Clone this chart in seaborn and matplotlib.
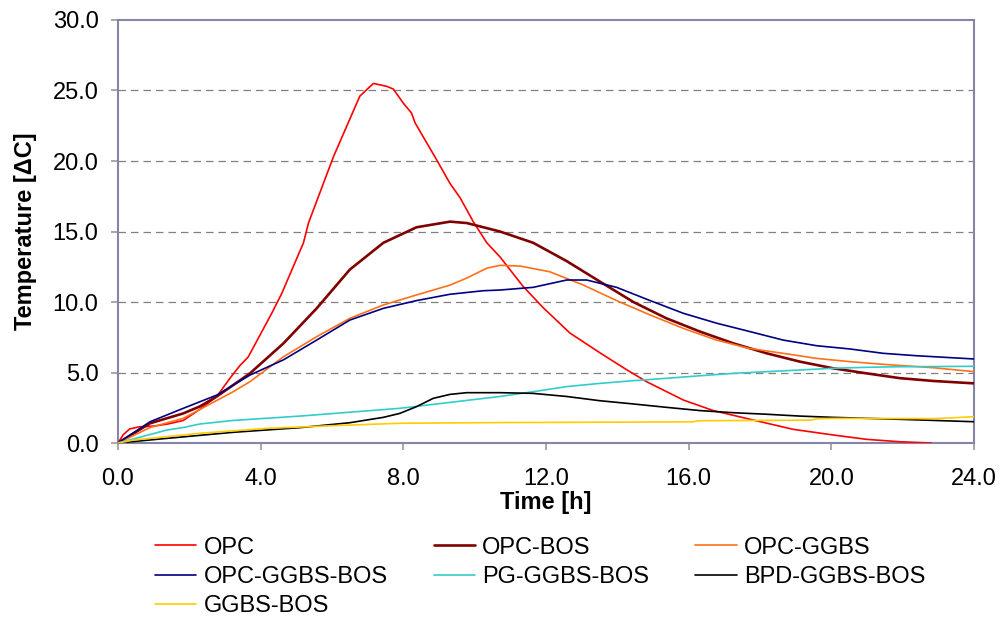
import matplotlib
matplotlib.use("Agg")
import matplotlib.pyplot as plt
import seaborn as sns
import pandas as pd

# ---- data ----
opc_t = [0, 0.15, 0.33, 0.6, 1.0, 1.4, 1.83, 2.3, 2.77, 3.14, 3.42, 3.65, 4.31, 4.59, 5.2, 5.34, 6.04, 6.78,
         7.16, 7.53, 7.72, 8.0, 8.23, 8.33, 8.93, 9.31, 9.59, 9.96, 10.34, 10.71, 11.36, 11.92, 12.67, 13.51,
         14.26, 14.82, 15.85, 16.69, 17.81, 18.93, 20.05, 20.99, 21.92, 22.8]
opc_v = [0, 0.6, 1.0, 1.15, 1.2, 1.35, 1.6, 2.4, 3.3, 4.6, 5.5, 6.1, 9.2, 10.6, 14.2, 15.6, 20.3, 24.6,
         25.5, 25.3, 25.1, 24.1, 23.4, 22.7, 20.1, 18.4, 17.4, 15.7, 14.2, 13.2, 11.1, 9.6, 7.8, 6.4,
         5.2, 4.35, 3.05, 2.3, 1.63, 0.97, 0.57, 0.26, 0.09, 0.0]

opcbos_t = [0, 0.9, 1.83, 2.3, 2.77, 3.7, 4.64, 5.57, 6.5, 7.44, 8.37, 9.31, 9.78, 10.71, 11.64, 12.58,
            13.51, 14.45, 15.38, 16.32, 17.25, 18.19, 19.12, 20.05, 20.99, 21.92, 22.86, 24.0]
opcbos_v = [0, 1.4, 2.1, 2.6, 3.3, 4.94, 7.07, 9.55, 12.3, 14.2, 15.3, 15.7, 15.6, 15.0, 14.2, 12.9,
            11.45, 10.0, 8.84, 7.9, 7.07, 6.36, 5.77, 5.3, 4.94, 4.6, 4.4, 4.23]

opcggbs_t = [0, 0.9, 1.83, 3.23, 3.7, 4.64, 5.57, 6.5, 7.44, 8.37, 9.31, 9.78, 10.34, 10.71, 11.27, 12.1,
             13.05, 13.98, 14.92, 15.85, 16.78, 17.72, 18.65, 19.59, 20.52, 21.46, 22.86, 24.0]
opcggbs_v = [0, 1.1, 1.75, 3.64, 4.35, 6.12, 7.54, 8.84, 9.79, 10.5, 11.2, 11.7, 12.4, 12.6, 12.55, 12.15,
             11.2, 10.1, 9.08, 8.13, 7.3, 6.7, 6.36, 6.0, 5.77, 5.58, 5.34, 5.06]

ogb_t = [0, 0.9, 1.83, 2.77, 3.7, 4.64, 5.57, 6.5, 7.44, 8.37, 9.31, 10.24, 10.71, 11.64, 12.58, 13.14,
         13.98, 14.92, 15.85, 16.78, 17.72, 18.65, 19.59, 20.52, 21.46, 22.39, 24.0]
ogb_v = [0, 1.51, 2.46, 3.4, 4.82, 5.9, 7.3, 8.72, 9.55, 10.1, 10.55, 10.8, 10.85, 11.04, 11.56, 11.56,
         11.04, 10.1, 9.2, 8.5, 7.9, 7.3, 6.9, 6.67, 6.36, 6.19, 5.96]

pg_t = [0, 1.37, 1.83, 2.3, 3.23, 5.1, 7.9, 10.71, 11.64, 12.58, 13.51, 14.45, 15.38, 16.32, 17.25,
        18.19, 19.12, 20.05, 20.99, 21.92, 24.0]
pg_v = [0, 0.92, 1.1, 1.35, 1.6, 1.91, 2.46, 3.3, 3.64, 4.0, 4.23, 4.42, 4.59, 4.77, 4.94,
        5.06, 5.18, 5.3, 5.37, 5.41, 5.44]

bpd_t = [0, 1.37, 3.23, 5.1, 6.5, 7.44, 7.9, 8.37, 8.84, 9.31, 9.78, 10.71, 11.64, 12.58, 13.51, 14.45,
         15.38, 16.32, 17.25, 18.19, 19.12, 20.05, 20.99, 21.92, 24.0]
bpd_v = [0, 0.33, 0.76, 1.09, 1.44, 1.82, 2.1, 2.58, 3.17, 3.45, 3.57, 3.57, 3.52, 3.3, 3.0, 2.77,
         2.53, 2.3, 2.15, 2.04, 1.91, 1.82, 1.75, 1.68, 1.51]

gb_t = [0, 0.43, 2.3, 4.17, 6.04, 7.9, 10.71, 16.1, 16.3, 19.4, 19.6, 20.05, 22.86, 23.5, 24.0]
gb_v = [0, 0.21, 0.69, 1.04, 1.23, 1.4, 1.45, 1.5, 1.58, 1.62, 1.72, 1.75, 1.73, 1.8, 1.87]

series_names = ["OPC", "OPC-BOS", "OPC-GGBS", "OPC-GGBS-BOS", "PG-GGBS-BOS", "BPD-GGBS-BOS", "GGBS-BOS"]
series_data = [(opc_t, opc_v), (opcbos_t, opcbos_v), (opcggbs_t, opcggbs_v), (ogb_t, ogb_v),
               (pg_t, pg_v), (bpd_t, bpd_v), (gb_t, gb_v)]
colors = ["#FF0000", "#800000", "#FF7018", "#000080", "#33CCCC", "#000000", "#FFCC00"]
widths = [1.2, 1.9, 1.2, 1.2, 1.2, 1.2, 1.2]

x_ticks = [0, 4, 8, 12, 16, 20, 24]
y_ticks = [0, 5, 10, 15, 20, 25, 30]

# ---- plot ----
sns.set_theme(style="white")
plt.rcParams["font.family"] = ["Liberation Sans", "DejaVu Sans"]
plt.rcParams["text.color"] = "black"
plt.rcParams["axes.labelcolor"] = "black"
plt.rcParams["xtick.color"] = "black"
plt.rcParams["ytick.color"] = "black"

fig = plt.figure(figsize=(10, 6.19), dpi=100)
ax = fig.add_axes([0.118, 0.2843, 0.856, 0.6834])

for name, (t, v), c, w in zip(series_names, series_data, colors, widths):
    df = pd.DataFrame({"t": t, "v": v})
    sns.lineplot(data=df, x="t", y="v", ax=ax, color=c, linewidth=w, label=name,
                 estimator=None, sort=False, zorder=3)

ax.set_xlim(0, 24)
ax.set_ylim(0, 30)
ax.set_xticks(x_ticks)
ax.set_yticks(y_ticks)
ax.set_xticklabels([f"{x:.1f}" for x in x_ticks], fontsize=17)
ax.set_yticklabels([f"{y:.1f}" for y in y_ticks], fontsize=17)
for y in y_ticks[1:-1]:
    ax.axhline(y, color="#808080", linestyle=(0, (6, 4)), linewidth=0.9, zorder=1)

frame = "#8585A8"
for s in ax.spines.values():
    s.set_color(frame)
    s.set_linewidth(1.5)
ax.tick_params(axis="both", direction="out", length=5, width=1.2, color="#999999",
               bottom=True, left=True, labelcolor="black")
ax.tick_params(axis="x", pad=13)
ax.tick_params(axis="y", pad=9)

ax.set_xlabel("Time [h]", fontsize=17, fontweight="bold", labelpad=1)
ax.set_ylabel("Temperature [ΔC]", fontsize=17, fontweight="bold", labelpad=11)

handles, labels = ax.get_legend_handles_labels()
ax.get_legend().remove()
order = [0, 3, 6, 1, 4, 2, 5]  # row-wise reading order in 3 columns
fig.legend([handles[i] for i in order], [labels[i] for i in order],
           loc="upper left", bbox_to_anchor=(0.155, 0.133, 0.77, 0.0),
           ncol=3, mode="expand", frameon=False, fontsize=17, handlelength=1.75,
           handletextpad=0.3, labelspacing=0.31, borderaxespad=0, borderpad=0)

fig.savefig("out.png", dpi=100)
